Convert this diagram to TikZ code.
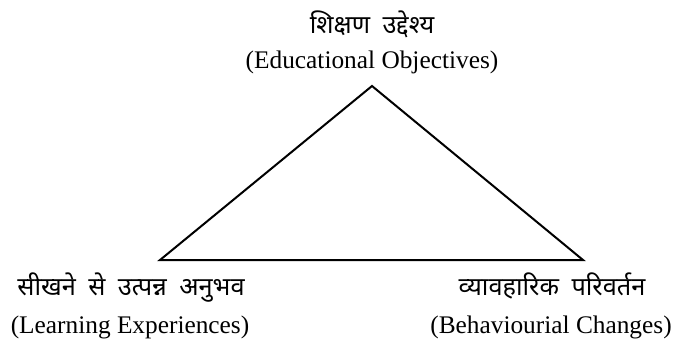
\documentclass[tikz,border=0pt]{standalone}
\usepackage{fontspec}
\setmainfont{Liberation Serif}
\newfontfamily\hindi[Script=Devanagari,WordSpace=1.9]{Noto Sans}
\begin{document}
\begin{tikzpicture}[x=0.75pt,y=-0.75pt,
  hi/.style={font=\hindi\fontsize{19}{22}\selectfont, inner sep=0pt, anchor=base},
  en/.style={font=\fontsize{19}{22}\selectfont, inner sep=0pt, anchor=base},
  edge/.style={line width=1.5pt, line join=miter}]
  \useasboundingbox (0,0) rectangle (680,339);
  % corners of the triangle
  \coordinate (apex) at (372,86);
  \coordinate (lb) at (160,260);
  \coordinate (rb) at (583,260);
  \draw[edge] (apex) -- (lb) -- (rb) -- cycle;
  % labels
  \node[hi] (th) at (372,33) {शिक्षण उद्देश्य};
  \node[en] (te) at (372,68) {(Educational Objectives)};
  \node[hi] (lh) at (131,295) {सीखने से उत्पन्न अनुभव};
  \node[en] (le) at (130,333) {(Learning Experiences)};
  \node[hi] (rh) at (552,295) {व्यावहारिक परिवर्तन};
  \node[en] (re) at (551,333) {(Behaviourial Changes)};
\end{tikzpicture}
\end{document}
